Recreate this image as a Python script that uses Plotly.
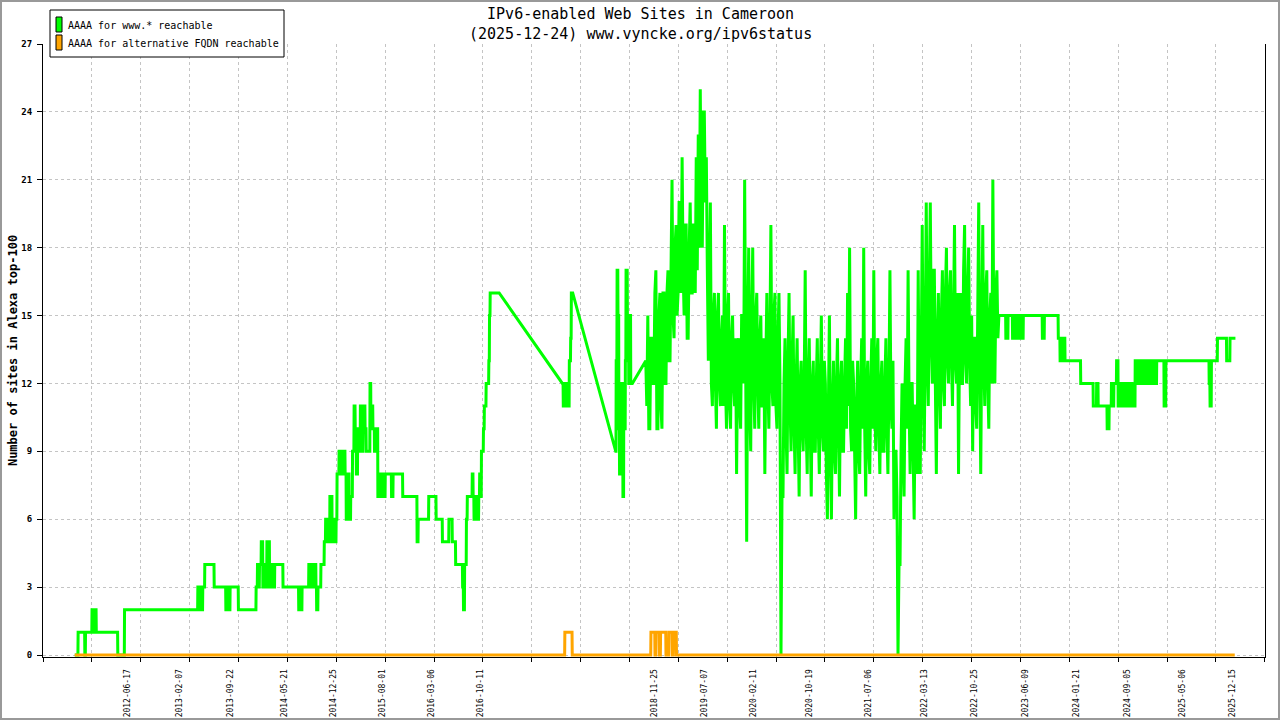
import datetime as dt
import plotly.graph_objects as go

# ---------------- text ----------------
title_line1 = "IPv6-enabled Web Sites in Cameroon"
title_line2 = "(2025-12-24) www.vyncke.org/ipv6status"
y_title = "Number of sites in Alexa top-100"
series_names = ["AAAA for www.* reachable", "AAAA for alternative FQDN reachable"]
series_colors = ["#00ff00", "#ffa500"]

# ---------------- axes ----------------
x_tick_labels = ["2012-06-17", "2013-02-07", "2013-09-22", "2014-05-21", "2014-12-25",
                 "2015-08-01", "2016-03-06", "2016-10-11", "2018-11-25", "2019-07-07",
                 "2020-02-11", "2020-10-19", "2021-07-06", "2022-03-13", "2022-10-25",
                 "2023-06-09", "2024-01-21", "2024-09-05", "2025-05-06", "2025-12-15"]
x_range = ["2011-06-08 07:00", "2026-05-10 22:00"]
x_grid_step_days = 218
y_ticks = [0, 3, 6, 9, 12, 15, 18, 21, 24, 27]
y_top = 27

# ---------------- data: www.* reachable (daily series, run-length encoded: (value, days)) ----
www_seg1_start = "2011-10-28"
www_seg1_runs = [
    (0, 15), (1, 30), (0, 3), (1, 29), (2, 9), (1, 4), (2, 6), (1, 96), (0, 30), (2, 327),
    (3, 8), (2, 4), (3, 6), (2, 4), (3, 9), (4, 42), (3, 52), (2, 9), (3, 4), (2, 6), (3, 37), (2, 79),
    (3, 6), (4, 6), (3, 3), (4, 8), (5, 7), (3, 6), (4, 6), (3, 6), (5, 12), (3, 6), (4, 9), (3, 8),
    (4, 37), (3, 70),
    (2, 8), (3, 4), (2, 3), (3, 30), (4, 8), (3, 6), (4, 6), (3, 6), (4, 6), (3, 3), (2, 6), (3, 13),
    (4, 15), (5, 6), (6, 6), (5, 6), (6, 4), (5, 3), (7, 10), (5, 5), (6, 7), (5, 6), (6, 4),
    (8, 9), (9, 6), (8, 6), (9, 6), (8, 5), (9, 4), (8, 5), (6, 6), (8, 7), (6, 7), (7, 8),
    (9, 7), (11, 5), (10, 5), (8, 6), (10, 7), (9, 5), (11, 6), (9, 6), (10, 5), (11, 4), (10, 5), (9, 17),
    (12, 4), (10, 5), (11, 4), (10, 7), (9, 7), (10, 8),
    (7, 5), (8, 7), (7, 7), (8, 7), (7, 7), (8, 28), (7, 7), (8, 43), (7, 64),
    (5, 5), (6, 47), (7, 33), (6, 28), (5, 29), (6, 15), (5, 15), (4, 31),
    (3, 4), (2, 5), (4, 8), (6, 4), (7, 22), (8, 4), (7, 4), (6, 7), (7, 7), (6, 7), (7, 4), (8, 4),
    (7, 4), (9, 9), (10, 4), (11, 8), (12, 12), (13, 3), (15, 3), (16, 41),
]
www_seg2_start = "2017-10-11"
www_seg2_runs = [(12, 4), (11, 7), (12, 4), (11, 7), (12, 4), (11, 5), (13, 6), (14, 3), (16, 7)]

www_seg3_start = "2018-06-06"
www_seg3_runs = [(9, 2), (13, 4), (17, 4), (15, 4), (10, 3), (8, 3), (12, 4), (10, 4), (11, 4),
                 (7, 4), (12, 4), (10, 3), (13, 3), (17, 6), (15, 6), (12, 4), (15, 5), (12, 8)]

# dense noisy stretch: one sample every 108 hours
www_seg4_start = "2018-10-18"
www_seg4_step_hours = 108
www_seg4_samples = [
    13, 11, 15, 10, 10, 14, 14, 12, 12, 16, 17, 10, 10, 15, 16, 11, 10, 16, 16, 12,
    12, 16, 17, 13, 13, 19, 21, 15, 14, 18, 19, 15, 16, 20, 20, 16, 22, 17, 15, 19,
    19, 14, 14, 18, 20, 16, 16, 19, 19, 16, 22, 17, 23, 18, 25, 19, 18, 24, 24, 20,
    22, 17, 13, 16, 20, 12, 11, 15, 16, 12, 10, 15, 16, 12, 11, 14, 15, 11, 19, 12,
    10, 15, 16, 11, 10, 14, 15, 12, 11, 14, 8, 13, 14, 11, 10, 15, 15, 12, 21, 13,
    5, 14, 18, 11, 9, 15, 18, 12, 10, 15, 16, 12, 10, 14, 15, 11, 11, 14, 8, 13,
    16, 12, 10, 14, 19, 12, 11, 15, 16, 11, 10, 14, 16, 12, 0, 7, 7, 12, 14, 10,
    8, 13, 16, 11, 9, 13, 15, 10, 8, 12, 14, 10, 7, 12, 13, 10, 9, 12, 17, 10,
    8, 12, 14, 10, 7, 12, 13, 9, 9, 12, 14, 10, 8, 12, 15, 10, 9, 13, 12, 8,
    6, 11, 15, 9, 6, 11, 13, 9, 8, 12, 14, 10, 7, 12, 13, 9, 9, 12, 14, 10,
    16, 11, 18, 10, 9, 13, 12, 9, 6, 11, 13, 9, 8, 12, 14, 10, 18, 10, 7, 12,
    13, 9, 8, 12, 14, 10, 17, 11, 9, 13, 14, 10, 8, 12, 13, 9, 9, 12, 14, 10,
    8, 12, 17, 11, 10, 13, 6, 9, 9, 7, 0, 4, 4, 9, 12, 9, 7, 12, 14, 10,
    17, 11, 8, 12, 12, 9, 6, 11, 11, 8, 17, 11, 8, 13, 19, 12, 9, 14, 20, 13,
    11, 16, 20, 14, 12, 17, 17, 12, 8, 14, 16, 12, 10, 15, 17, 12, 11, 16, 18, 13,
    12, 16, 17, 13, 11, 15, 19, 13, 12, 16, 8, 14, 16, 12, 12, 17, 19, 13, 12, 16,
    18, 13, 11, 15, 9, 14, 14, 11, 10, 15, 20, 13, 8, 14, 19, 13, 11, 16, 17, 12,
    10, 15, 16, 12, 21, 14, 12, 16, 17, 14, 15, 15,
]
www_seg4_tail_runs = [
    (15, 22), (14, 10), (15, 20), (14, 6), (15, 4), (14, 7), (15, 4), (14, 4), (15, 11), (14, 12),
    (15, 85), (14, 9), (15, 62), (14, 8), (13, 4), (14, 7), (13, 4), (14, 7), (13, 70), (12, 56),
    (11, 15), (12, 7), (11, 40), (10, 9), (11, 10), (12, 4), (11, 7), (12, 12), (13, 7), (11, 8),
    (12, 7), (11, 7), (12, 9), (11, 7), (12, 11), (11, 7), (12, 7), (11, 13), (13, 7), (12, 7),
    (13, 9), (12, 7), (13, 11), (12, 7), (13, 7), (12, 7), (13, 11), (12, 7), (13, 7), (12, 9),
    (13, 33), (11, 8), (13, 193), (12, 4), (11, 6), (13, 27), (14, 41), (13, 15), (14, 25),
]

# ---------------- data: alternative FQDN reachable ----------------
alt_start = "2011-10-28"
alt_runs = [(0, 2186), (1, 33), (0, 351), (1, 18), (0, 4), (1, 15), (0, 6), (1, 24), (0, 13),
            (1, 15), (0, 6), (1, 13), (0, 2491)]


def to_dt(s):
    return dt.datetime.fromisoformat(s) if isinstance(s, str) else s


def expand_runs(start, runs):
    d = to_dt(start)
    xs, ys = [], []
    for v, n in runs:
        xs.append(d)
        ys.append(v)
        if n > 1:
            xs.append(d + dt.timedelta(days=n - 1))
            ys.append(v)
        d += dt.timedelta(days=n)
    return xs, ys, d


def expand_samples(start, step_hours, values):
    d0 = to_dt(start)
    xs = [d0 + dt.timedelta(hours=i * step_hours) for i in range(len(values))]
    return xs, list(values), d0 + dt.timedelta(hours=len(values) * step_hours)


www_x, www_y = [], []
for st, rn in [(www_seg1_start, www_seg1_runs), (www_seg2_start, www_seg2_runs),
               (www_seg3_start, www_seg3_runs)]:
    xs, ys, _ = expand_runs(st, rn)
    www_x += xs
    www_y += ys
xs, ys, tail_start = expand_samples(www_seg4_start, www_seg4_step_hours, www_seg4_samples)
www_x += xs
www_y += ys
xs, ys, _ = expand_runs(tail_start, www_seg4_tail_runs)
www_x += xs
www_y += ys

alt_x, alt_y, _ = expand_runs(alt_start, alt_runs)

MONO = "DejaVu Sans Mono"
W, H = 1280, 720
# plot area: y=27 at 44 px, y=0 at 655 px; 2 px of head-room below 0 so the
# 3 px baseline line is not clipped by the plot area
L, R, T, B = 43, 15, 44, 63
PAD_PX = 2
PW, PH = W - L - R, H - T - B
y_bottom = -PAD_PX * y_top / (PH - PAD_PX)


def px(x):  # figure pixel -> paper x
    return (x - L) / PW


def py(y):  # figure pixel (from top) -> paper y
    return (H - B - y) / PH


fig = go.Figure()
fig.add_trace(go.Scatter(x=www_x, y=www_y, mode="lines", name=series_names[0],
                         line=dict(color=series_colors[0], width=3)))
fig.add_trace(go.Scatter(x=alt_x, y=alt_y, mode="lines", name=series_names[1],
                         line=dict(color=series_colors[1], width=3)))

# boxed legend in the top-left corner (rectangular colour swatches)
legend_shapes = [dict(type="rect", xref="paper", yref="paper", x0=px(50), x1=px(284), y0=py(57), y1=py(10),
                      line=dict(color="black", width=1), fillcolor="white", layer="above")]
legend_texts = []
for i, (name, col) in enumerate(zip(series_names, series_colors)):
    top = 17 + 18 * i
    legend_shapes.append(dict(type="rect", xref="paper", yref="paper", x0=px(56), x1=px(62),
                              y0=py(top + 15), y1=py(top), line=dict(color="black", width=1),
                              fillcolor=col, layer="above"))
    legend_texts.append(dict(text=name, xref="paper", yref="paper", x=px(66), y=py(top + 8),
                             xanchor="left", yanchor="middle", showarrow=False,
                             font=dict(family=MONO, size=10, color="black")))

frame = dict(type="rect", xref="paper", yref="paper", x0=px(1), x1=px(W - 1), y0=py(H - 1), y1=py(1),
             line=dict(color="#999999", width=2), fillcolor="rgba(0,0,0,0)", layer="above")

fig.update_layout(
    width=W, height=H,
    margin=dict(l=L, r=R, t=T, b=B, pad=0, autoexpand=False),
    paper_bgcolor="white", plot_bgcolor="white",
    font=dict(family=MONO, color="black"),
    showlegend=False,
    xaxis=dict(type="date", range=x_range, tickmode="array", tickvals=x_tick_labels,
               ticktext=x_tick_labels, tickangle=-90, ticks="", ticklabelstandoff=8,
               tickfont=dict(family=MONO, size=8, color="black"), automargin=False,
               showgrid=False, zeroline=False, showline=True, linecolor="black", linewidth=1,
               layer="below traces",
               minor=dict(tick0=x_range[0], dtick=x_grid_step_days * 86400000, ticks="outside",
                          ticklen=4, tickcolor="black", tickwidth=1, showgrid=True,
                          gridcolor="#c4c4c4", griddash="dot", gridwidth=1)),
    yaxis=dict(range=[y_bottom, y_top], tickmode="array", tickvals=y_ticks, ticks="outside", ticklen=5,
               tickcolor="black", ticklabelstandoff=3,
               tickfont=dict(family=MONO, size=9, color="black", weight="bold"),
               showgrid=True, gridcolor="#c4c4c4", griddash="dot", gridwidth=1, automargin=False,
               zeroline=False, showline=True, linecolor="black", linewidth=1, mirror=True,
               layer="below traces",
               title=dict(text=y_title, standoff=1,
                          font=dict(family=MONO, size=12, color="black", weight="bold"))),
    annotations=[dict(text=title_line1 + "<br>" + title_line2, xref="paper", yref="paper",
                      x=px(640), y=py(3), xanchor="center", yanchor="top",
                      showarrow=False, align="center",
                      font=dict(family=MONO, size=15, color="black"))] + legend_texts,
    shapes=legend_shapes + [frame],
)

fig.write_html("out.html", config={"displayModeBar": False},
               post_script="document.body.style.margin='0';document.body.style.overflow='hidden';")
